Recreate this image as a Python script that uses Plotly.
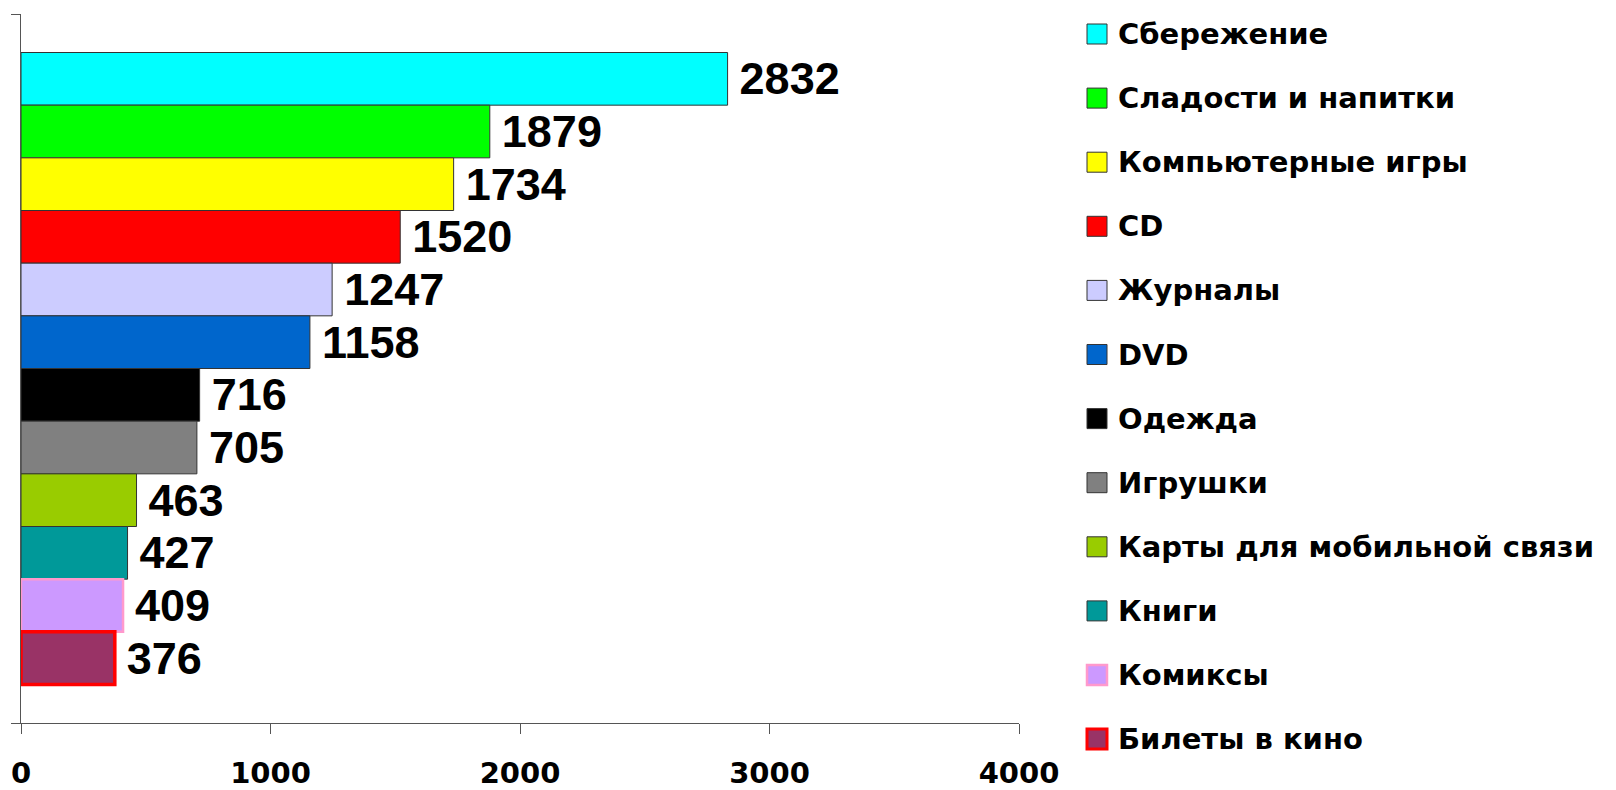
import plotly.graph_objects as go

categories = ["Сбережение", "Сладости и напитки", "Компьютерные игры", "CD", "Журналы", "DVD",
              "Одежда", "Игрушки", "Карты для мобильной связи", "Книги", "Комиксы", "Билеты в кино"]
values = [2832, 1879, 1734, 1520, 1247, 1158, 716, 705, 463, 427, 409, 376]
fill_colors = ["#00FFFF", "#00FF00", "#FFFF00", "#FF0000", "#CCCCFF", "#0066CC",
               "#000000", "#808080", "#99CC00", "#009999", "#CC99FF", "#993366"]
line_colors = ["#333333"] * 10 + ["#FF99CC", "#FF0000"]
line_widths = [1] * 10 + [2.5, 3.5]
x_ticks = [0, 1000, 2000, 3000, 4000]
group_label = "Расходы"

FONT = "Liberation Sans"
LEG_FONT = "DejaVu Sans"
W, H = 1616, 790
ML, MR, MT, MB = 21, 597, 14, 67
PW = W - ML - MR
PH = H - MT - MB

fig = go.Figure()
for name, v, fc, lc, lw in zip(categories, values, fill_colors, line_colors, line_widths):
    fig.add_trace(go.Bar(
        x=[v], y=[group_label], orientation="h", name=name,
        marker=dict(color=fc, line=dict(color=lc, width=lw)),
        texttemplate="\u2009%{x}", textposition="outside",
        textfont=dict(family=FONT, size=45, color="black", weight="bold"),
        constraintext="none", cliponaxis=False, showlegend=False,
    ))

# manual legend (larger swatches like the reference)
leg_top, leg_step = 34, 64.1
sw = 20
sw_x0 = 1087
txt_x = 1116
for i, (name, fc, lc, lw) in enumerate(zip(categories, fill_colors, line_colors, line_widths)):
    cy = leg_top + i * leg_step
    fig.add_shape(type="rect", xref="paper", yref="paper",
                  x0=(sw_x0 - ML) / PW, x1=(sw_x0 + sw - ML) / PW,
                  y0=(H - MB - (cy - sw / 2)) / PH, y1=(H - MB - (cy + sw / 2)) / PH,
                  fillcolor=fc, line=dict(color=lc if lw > 1 else "#333333", width=min(lw, 3)))
    fig.add_annotation(xref="paper", yref="paper", x=(txt_x - ML) / PW, y=(H - MB - cy) / PH,
                       text=name, showarrow=False, xanchor="left", yanchor="middle",
                       font=dict(family=LEG_FONT, size=29, color="black", weight="bold"))

fig.update_layout(
    width=W, height=H, autosize=False,
    margin=dict(l=ML, r=MR, t=MT, b=MB),
    paper_bgcolor="white", plot_bgcolor="white",
    barmode="group", bargap=0.1086, bargroupgap=0,
    showlegend=False,
    xaxis=dict(range=[0, 4000], tickvals=x_ticks, ticktext=[str(t) for t in x_ticks],
               ticks="outside", ticklen=10, tickcolor="#555555", tickwidth=1.3,
               showline=True, linecolor="#555555", linewidth=1.3, automargin=False,
               showgrid=False, zeroline=False, ticklabelstandoff=14,
               tickfont=dict(family=LEG_FONT, size=29, color="black", weight="bold")),
    yaxis=dict(type="category", autorange="reversed", showticklabels=False, automargin=False,
               ticks="outside", tickson="boundaries", ticklen=9, tickcolor="#555555", tickwidth=1.3,
               showline=True, linecolor="#555555", linewidth=1.3, showgrid=False, zeroline=False),
)

fig.write_html("out.html", config={"displayModeBar": False},
               post_script="document.body.style.margin='0';document.body.style.overflow='hidden';")
